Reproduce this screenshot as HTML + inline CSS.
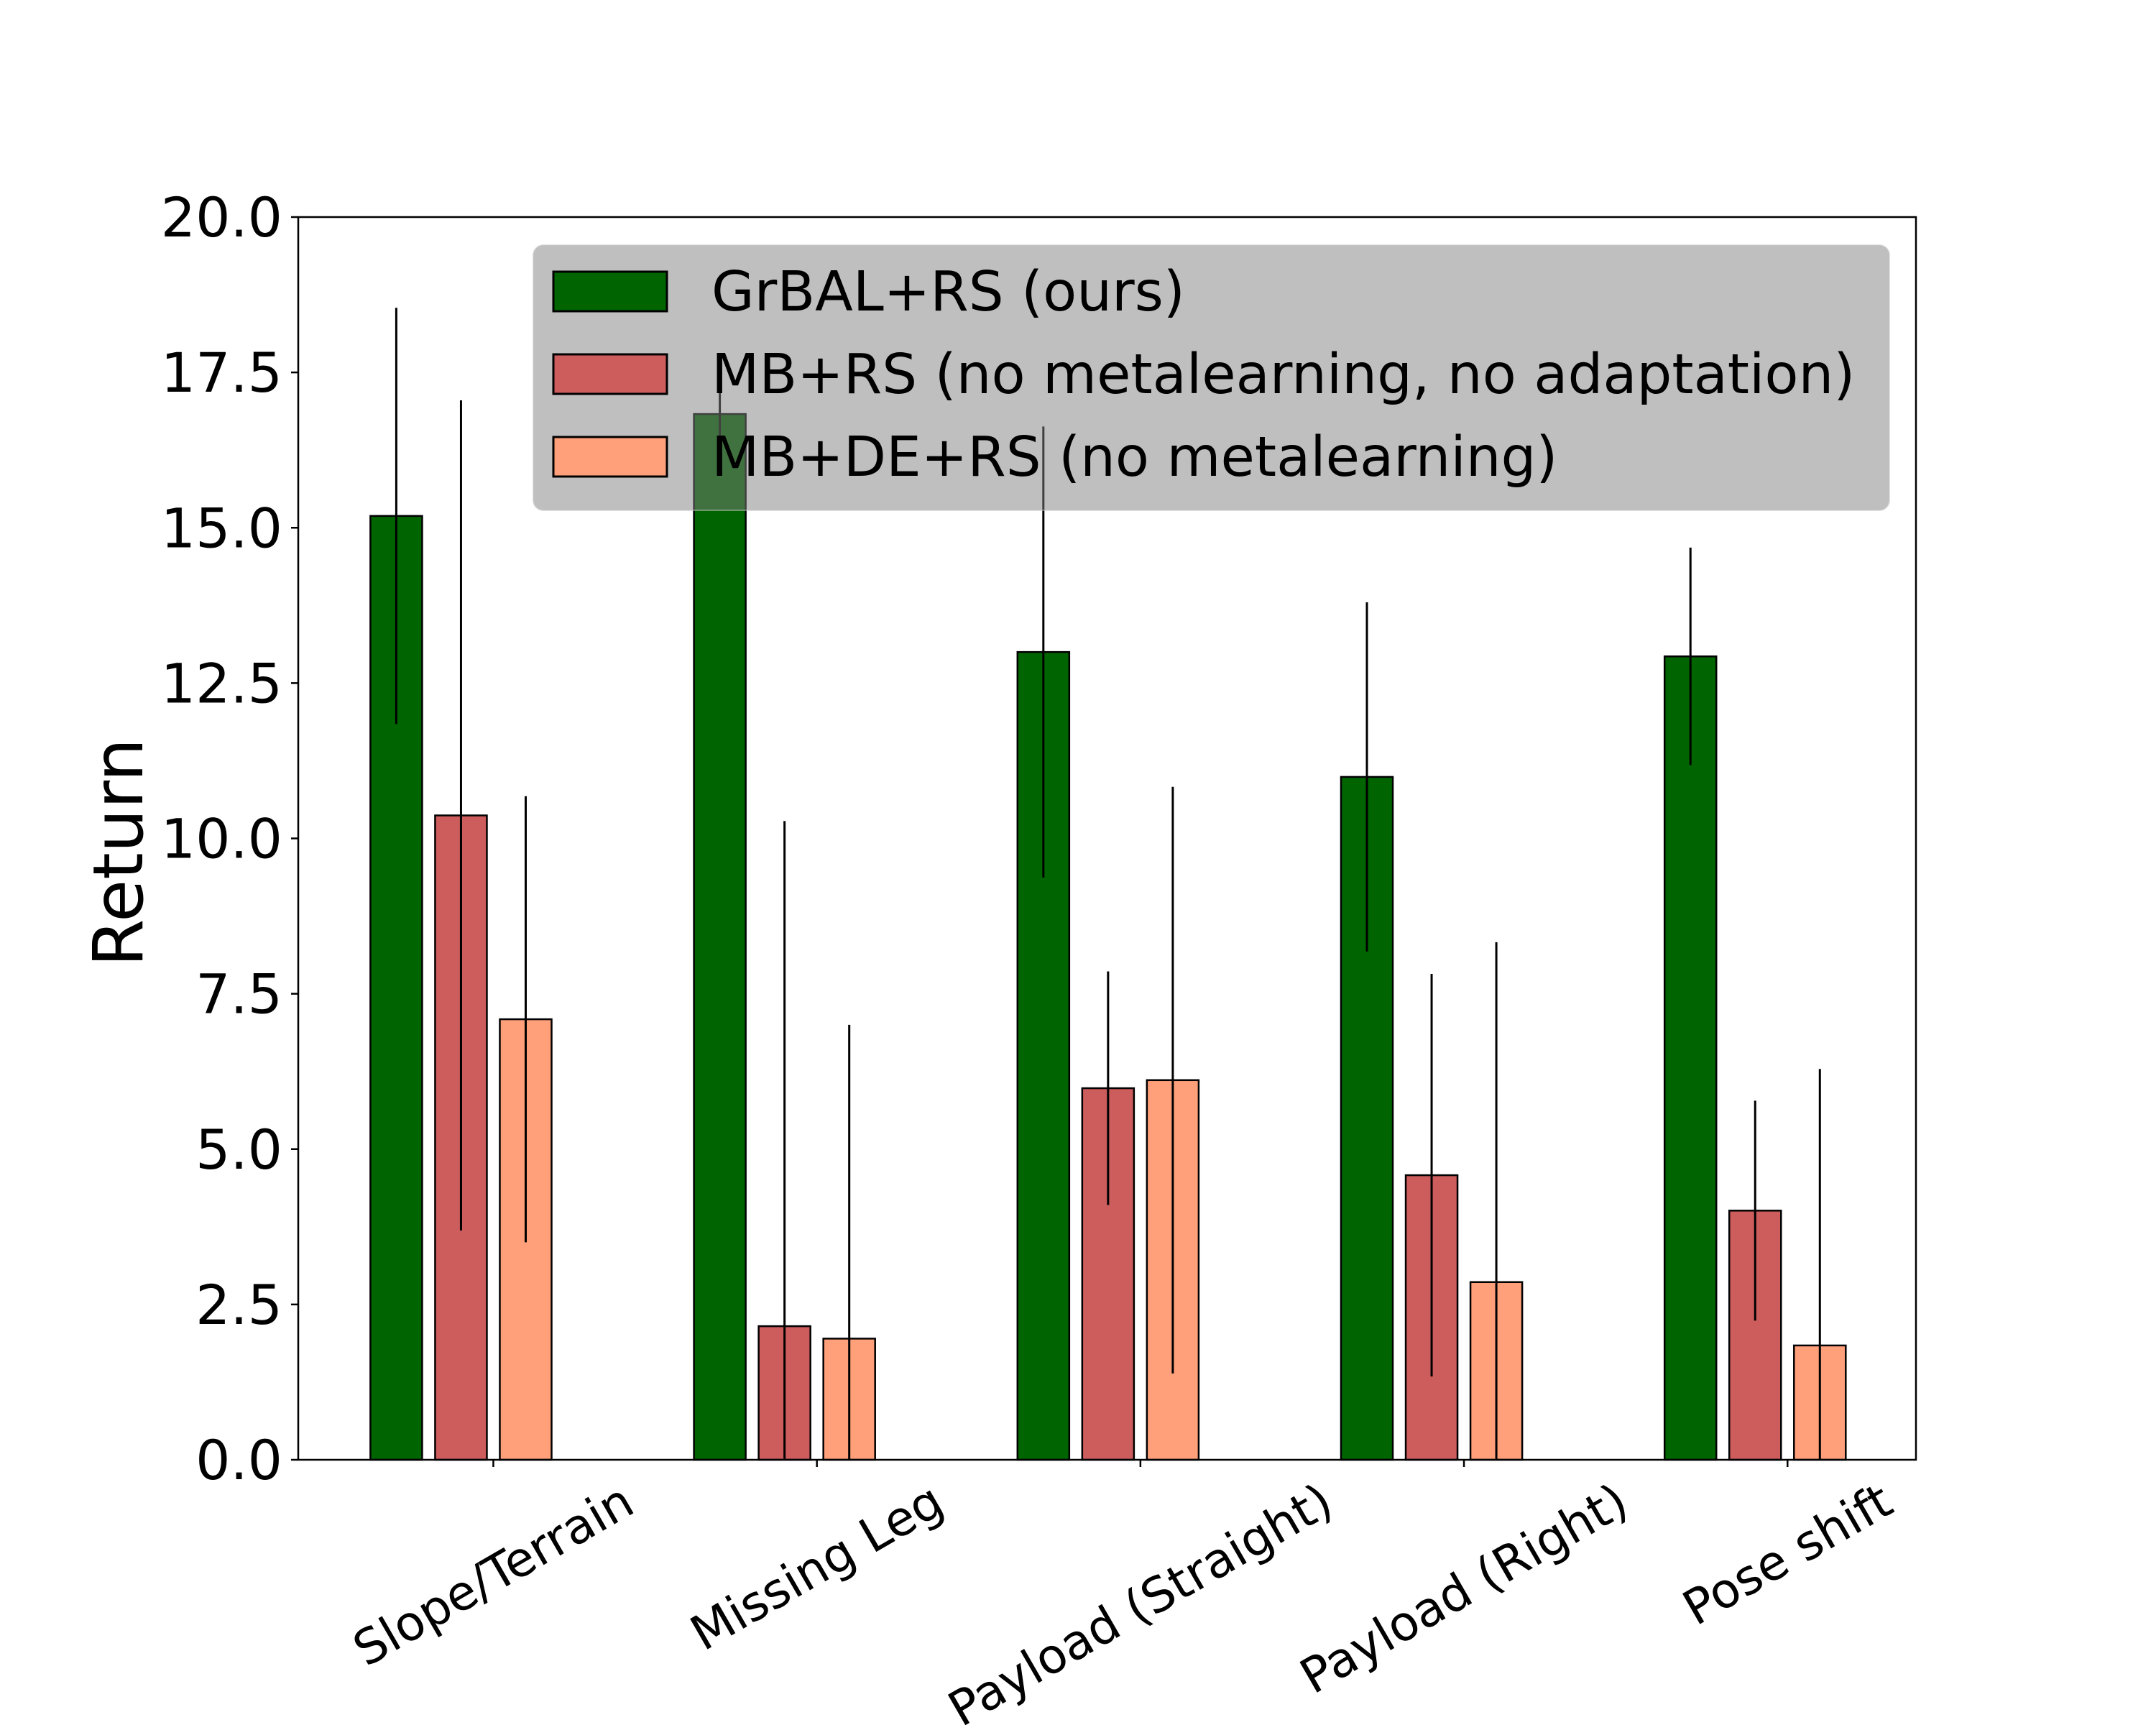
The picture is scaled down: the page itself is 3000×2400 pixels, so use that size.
<!DOCTYPE html>
<html><head><meta charset="utf-8">
<style>
html,body{margin:0;padding:0;background:#fff;}
svg{display:block;font-family:"DejaVu Sans","Liberation Sans",sans-serif;}
</style></head>
<body>
<svg id="chart" width="3000" height="2400" viewBox="0 0 3000 2400" xmlns="http://www.w3.org/2000/svg">
<rect width="3000" height="2400" fill="#fff"/>
<g id="bars"></g>
<g id="errs"></g>
<g id="axes"></g>
<g id="legend"></g>
</svg>
<script>
const categories = ["Slope/Terrain","Missing Leg","Payload (Straight)","Payload (Right)","Pose shift"];
const seriesNames = ["GrBAL+RS (ours)","MB+RS (no metalearning, no adaptation)","MB+DE+RS (no metalearning)"];
const grbalValues = [15.19, 16.83, 13.0, 10.99, 12.93];
const grbalErrors = [3.35, 0.35, 3.63, 2.81, 1.75];
const mbValues = [10.37, 2.15, 5.98, 4.58, 4.01];
const mbErrors = [6.68, 8.13, 1.88, 3.24, 1.77];
const mbdeValues = [7.09, 1.95, 6.11, 2.86, 1.84];
const mbdeErrors = [3.59, 5.05, 4.72, 5.47, 4.45];
const yTicks = [0, 2.5, 5, 7.5, 10, 12.5, 15, 17.5, 20];
const yTickLabels = ["0.0","2.5","5.0","7.5","10.0","12.5","15.0","17.5","20.0"];

const NS = "http://www.w3.org/2000/svg";
const L = 415, R = 2666, T = 302, B = 2031;
const xMin = -0.603, xMax = 4.397, yMin = 0, yMax = 20;
function xs(v){ return L + (v - xMin) / (xMax - xMin) * (R - L); }
function ys(v){ return B - (v - yMin) / (yMax - yMin) * (B - T); }
function mk(tag, attrs, parent){
  const e = document.createElementNS(NS, tag);
  for (const k in attrs) e.setAttribute(k, attrs[k]);
  parent.appendChild(e);
  return e;
}
const colors = ["#006400", "#cd5c5c", "#ffa07a"];
const allVals = [grbalValues, mbValues, mbdeValues];
const allErrs = [grbalErrors, mbErrors, mbdeErrors];
const offsets = [-0.3, -0.1, 0.1];
const barW = 0.16;
const gb = document.getElementById('bars'), ge = document.getElementById('errs');
const ga = document.getElementById('axes'), gl = document.getElementById('legend');

for (let s = 0; s < 3; s++) {
  for (let i = 0; i < categories.length; i++) {
    const v = allVals[s][i], e = allErrs[s][i];
    const cx = i + offsets[s];
    const x0 = xs(cx - barW / 2), x1 = xs(cx + barW / 2);
    const r = mk('rect', {x: x0, y: ys(v), width: x1 - x0, height: ys(0) - ys(v), fill: colors[s], stroke: '#000', 'stroke-width': 2.5}, gb);
    
    
    const lo = Math.max(yMin, v - e), hi = Math.min(yMax, v + e);
    const ln = mk('line', {x1: xs(cx), x2: xs(cx), y1: ys(lo), y2: ys(hi), stroke: '#000', 'stroke-width': 3}, ge);
    
    
  }
}

const fr = mk('rect', {x: L, y: T, width: R - L, height: B - T, fill: 'none', stroke: '#000', 'stroke-width': 2.5}, ga);



for (let k = 0; k < yTicks.length; k++) {
  const y = ys(yTicks[k]);
  const t = mk('line', {x1: L - 10, x2: L, y1: y, y2: y, stroke: '#000', 'stroke-width': 2.5}, ga);
  
  
  const tx = mk('text', {x: L - 22, y: y + 27, 'text-anchor': 'end', 'font-size': 76, fill: '#000'}, ga);
  tx.textContent = yTickLabels[k];
  
  
}
for (let i = 0; i < categories.length; i++) {
  const x = xs(i);
  const t = mk('line', {x1: x, x2: x, y1: B, y2: B + 10, stroke: '#000', 'stroke-width': 2.5}, ga);
  
  
  const tx = mk('text', {x: 0, y: 0, 'text-anchor': 'middle', 'font-size': 67, fill: '#000', 'dominant-baseline': 'central'}, ga);
  tx.textContent = categories[i];
  
  
  const w = tx.getComputedTextLength();
  const h = 67 * 1.05;
  const bh = w * 0.5 + h * 0.866;
  const cy = B + 21 + bh / 2;
  tx.setAttribute('transform', 'translate(' + x + ',' + cy + ') rotate(-30)');
}
const yt = mk('text', {x: 0, y: 0, 'text-anchor': 'middle', 'font-size': 96, fill: '#000', transform: 'translate(198,1186) rotate(-90)'}, ga);
yt.textContent = 'Return';



const lb = mk('rect', {x: 742, y: 341, width: 1887, height: 369, rx: 14, fill: 'rgba(128,128,128,0.5)', stroke: 'rgba(200,200,200,0.5)', 'stroke-width': 2}, gl);


for (let s = 0; s < 3; s++) {
  const yy = 378 + s * 115;
  const p = mk('rect', {x: 770, y: yy, width: 158, height: 55, fill: colors[s], stroke: '#000', 'stroke-width': 3}, gl);
  
  
  const tx = mk('text', {x: 990, y: 432 + s * 115, 'font-size': 77, fill: '#000'}, gl);
  tx.textContent = seriesNames[s];
  
  
}
</script>
</body></html>
